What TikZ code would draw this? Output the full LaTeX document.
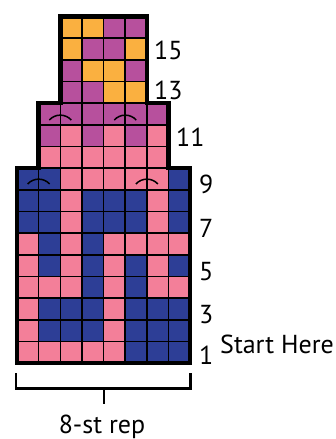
\documentclass[tikz,border=0pt]{standalone}
\usepackage{fontspec}
\setmainfont{PT Sans}
\definecolor{pk}{RGB}{243,127,153}
\definecolor{bl}{RGB}{45,62,150}
\definecolor{pu}{RGB}{183,80,157}
\definecolor{og}{RGB}{250,176,64}
\begin{document}
\begin{tikzpicture}[x=1pt,y=-1pt,
  cellbox/.style={draw=black,line width=1.6pt},
  outline/.style={draw=black,line width=4.5pt,line join=miter},
  decarc/.style={draw=black,line width=1.5pt},
  lbl/.style={anchor=base west,inner sep=0pt,font=\fontsize{26}{30}\selectfont},
  bracketline/.style={draw=black,line width=2.8pt}]
\useasboundingbox (0,0) rectangle (335,439);
\def\s{21.65}
% rows: row r, first column
\foreach \k [count=\i] in {pk,pk,pk,pk,pk,bl,bl,bl} \filldraw[cellbox,fill=\k] ({17+(\i-1)*\s},{363-1*\s}) rectangle ++(\s,\s);
\foreach \k [count=\i] in {pk,bl,bl,bl,pk,bl,bl,bl} \filldraw[cellbox,fill=\k] ({17+(\i-1)*\s},{363-2*\s}) rectangle ++(\s,\s);
\foreach \k [count=\i] in {pk,bl,bl,bl,pk,bl,bl,bl} \filldraw[cellbox,fill=\k] ({17+(\i-1)*\s},{363-3*\s}) rectangle ++(\s,\s);
\foreach \k [count=\i] in {pk,pk,pk,bl,pk,bl,pk,pk} \filldraw[cellbox,fill=\k] ({17+(\i-1)*\s},{363-4*\s}) rectangle ++(\s,\s);
\foreach \k [count=\i] in {pk,bl,pk,bl,pk,bl,pk,bl} \filldraw[cellbox,fill=\k] ({17+(\i-1)*\s},{363-5*\s}) rectangle ++(\s,\s);
\foreach \k [count=\i] in {pk,bl,pk,bl,pk,pk,pk,pk} \filldraw[cellbox,fill=\k] ({17+(\i-1)*\s},{363-6*\s}) rectangle ++(\s,\s);
\foreach \k [count=\i] in {bl,bl,pk,bl,bl,bl,pk,bl} \filldraw[cellbox,fill=\k] ({17+(\i-1)*\s},{363-7*\s}) rectangle ++(\s,\s);
\foreach \k [count=\i] in {bl,bl,pk,bl,bl,bl,pk,bl} \filldraw[cellbox,fill=\k] ({17+(\i-1)*\s},{363-8*\s}) rectangle ++(\s,\s);
\foreach \k [count=\i] in {bl,bl,pk,pk,pk,pk,pk,bl} \filldraw[cellbox,fill=\k] ({17+(\i-1)*\s},{363-9*\s}) rectangle ++(\s,\s);
\foreach \k [count=\i from 2] in {pk,pk,pk,pk,pk,pk} \filldraw[cellbox,fill=\k] ({17+(\i-1)*\s},{363-10*\s}) rectangle ++(\s,\s);
\foreach \k [count=\i from 2] in {pu,pk,pu,pk,pu,pk} \filldraw[cellbox,fill=\k] ({17+(\i-1)*\s},{363-11*\s}) rectangle ++(\s,\s);
\foreach \k [count=\i from 2] in {pu,pu,pu,pu,pu,pu} \filldraw[cellbox,fill=\k] ({17+(\i-1)*\s},{363-12*\s}) rectangle ++(\s,\s);
\foreach \k [count=\i from 3] in {pu,pu,og,og} \filldraw[cellbox,fill=\k] ({17+(\i-1)*\s},{363-13*\s}) rectangle ++(\s,\s);
\foreach \k [count=\i from 3] in {pu,og,og,pu} \filldraw[cellbox,fill=\k] ({17+(\i-1)*\s},{363-14*\s}) rectangle ++(\s,\s);
\foreach \k [count=\i from 3] in {og,pu,pu,og} \filldraw[cellbox,fill=\k] ({17+(\i-1)*\s},{363-15*\s}) rectangle ++(\s,\s);
\foreach \k [count=\i from 3] in {og,og,pu,pu} \filldraw[cellbox,fill=\k] ({17+(\i-1)*\s},{363-16*\s}) rectangle ++(\s,\s);
% outline
\draw[outline] (17,363) -- (17,{363-9*\s}) -- ({17+\s},{363-9*\s}) -- ({17+\s},{363-12*\s})
  -- ({17+2*\s},{363-12*\s}) -- ({17+2*\s},{363-16*\s}) -- ({17+6*\s},{363-16*\s})
  -- ({17+6*\s},{363-12*\s}) -- ({17+7*\s},{363-12*\s}) -- ({17+7*\s},{363-9*\s})
  -- ({17+8*\s},{363-9*\s}) -- ({17+8*\s},363) -- cycle;
% decrease arcs
\foreach \cx/\ya in {38.65/179, 146.9/179, 60.3/115, 125.25/115}
  \draw[decarc] (\cx-11,\ya+5) .. controls (\cx-5,\ya-1.5) and (\cx+5,\ya-1.5) .. (\cx+11,\ya+5);
% labels
\node[lbl] (l15) at (154,59) {15};
\node[lbl] (l13) at (154,99.5) {13};
\node[lbl] (l11) at (176,146.5) {11};
\node[lbl] (l9) at (199,193) {9};
\node[lbl] (l7) at (199,237) {7};
\node[lbl] (l5) at (199,280) {5};
\node[lbl] (l3) at (199,323) {3};
\node[lbl] (l1) at (199,364.5) {1};
\node[lbl] (start) at (220,353) {Start Here};
% bracket
\coordinate (bl1) at (16,373);
\coordinate (bl2) at (16,388.5);
\coordinate (br2) at (190.5,388.5);
\coordinate (br1) at (190.5,373);
\coordinate (bm) at (104,388.5);
\coordinate (bt) at (104,404);
\draw[bracketline] (bl1) -- (bl2) -- (br2) -- (br1);
\draw[bracketline] (bm) -- (bt);
\node[lbl,anchor=base] (rep) at (102,433) {8-st rep};
\end{tikzpicture}
\end{document}
